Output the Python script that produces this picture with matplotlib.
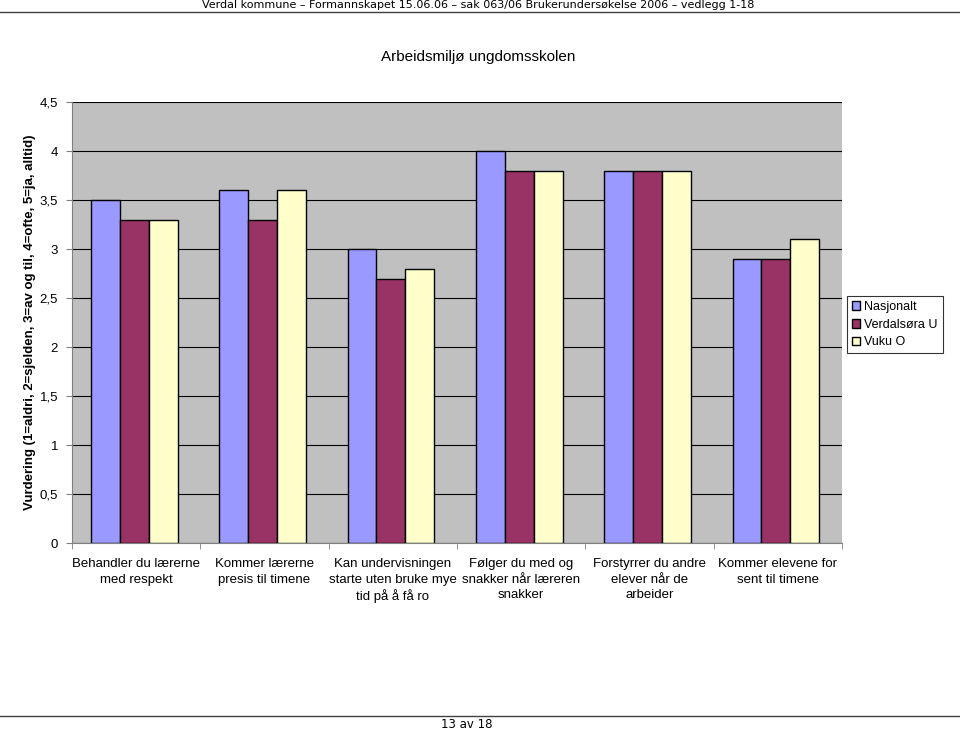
import matplotlib
matplotlib.use("Agg")
import matplotlib.pyplot as plt
import numpy as np

plt.rcParams['font.family'] = ['Liberation Sans', 'DejaVu Sans']

# data
categories = ["Behandler du lærerne\nmed respekt",
              "Kommer lærerne\npresis til timene",
              "Kan undervisningen\nstarte uten bruke mye\ntid på å få ro",
              "Følger du med og\nsnakker når læreren\nsnakker",
              "Forstyrrer du andre\nelever når de\narbeider",
              "Kommer elevene for\nsent til timene"]
series_names = ["Nasjonalt", "Verdalsøra U", "Vuku O"]
nasjonalt = [3.5, 3.6, 3.0, 4.0, 3.8, 2.9]
verdalsora = [3.3, 3.3, 2.7, 3.8, 3.8, 2.9]
vuku = [3.3, 3.6, 2.8, 3.8, 3.8, 3.1]
yticks = [0, 0.5, 1, 1.5, 2, 2.5, 3, 3.5, 4, 4.5]
ytick_labels = ["0", "0,5", "1", "1,5", "2", "2,5", "3", "3,5", "4", "4,5"]
colors = ["#9999FF", "#993366", "#FFFFCC"]

fig = plt.figure(figsize=(9.6, 7.3), dpi=100)
ax = fig.add_axes([0.075, 0.256, 0.802, 0.604])
ax.set_facecolor("#C0C0C0")

x = np.arange(len(categories))
w = 0.225
for i, vals in enumerate([nasjonalt, verdalsora, vuku]):
    ax.bar(x + (i - 1) * w - 0.015, vals, w, color=colors[i], edgecolor="black",
           linewidth=1, label=series_names[i], zorder=3)

ax.set_xlim(-0.5, len(categories) - 0.5)
ax.set_ylim(0, 4.5)
ax.set_yticks(yticks)
ax.set_yticklabels(ytick_labels, fontsize=9.5)
ax.yaxis.grid(True, color="black", linewidth=0.8, zorder=0)
ax.set_xticks(x)
ax.set_xticklabels(categories, fontsize=9.5, linespacing=1.35)
ax.tick_params(axis="x", length=0, pad=11)
ax.set_xticks(np.arange(len(categories) + 1) - 0.5, minor=True)
ax.tick_params(axis="x", which="minor", length=4, color="#808080")
ax.tick_params(axis="y", length=4, color="#808080", pad=6)
for s in ["top", "right"]:
    ax.spines[s].set_visible(False)
ax.spines["left"].set_color("#808080")
ax.spines["bottom"].set_color("#808080")

ax.set_ylabel("Vurdering (1=aldri, 2=sjelden, 3=av og til, 4=ofte, 5=ja, alltid)",
              fontsize=9.5, fontweight="bold")
ax.yaxis.set_label_coords(-0.047, 0.5)

leg = ax.legend(loc="upper left", bbox_to_anchor=(1.006, 0.56), fontsize=9,
                frameon=True, fancybox=False, edgecolor="black",
                handlelength=0.7, handleheight=0.7, handletextpad=0.3,
                borderpad=0.4, labelspacing=0.45, borderaxespad=0)
leg.get_frame().set_linewidth(0.8)

fig.text(0.498, 0.922, "Arbeidsmiljø ungdomsskolen", ha="center", va="center",
         fontsize=11)

# page header / footer
fig.text(0.498, 0.993, "Verdal kommune – Formannskapet 15.06.06 – sak 063/06 Brukerundersøkelse 2006 – vedlegg 1-18",
         ha="center", va="center", fontsize=8, family=["DejaVu Sans"])
fig.add_artist(plt.Line2D([0, 1], [0.983, 0.983], color="#404040", linewidth=1))
fig.add_artist(plt.Line2D([0, 1], [0.019, 0.019], color="#404040", linewidth=1))
fig.text(0.486, 0.007, "13 av 18", ha="center", va="center", fontsize=8.5,
         family=["DejaVu Sans"])

fig.savefig("out.png", dpi=100)
